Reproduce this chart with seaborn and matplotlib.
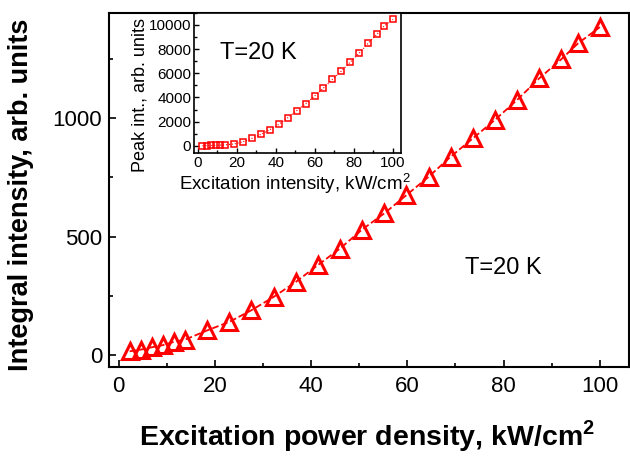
import numpy as np
import pandas as pd
import seaborn as sns
import matplotlib.pyplot as plt
from matplotlib.ticker import MultipleLocator

# excitation power density, kW/cm^2
power = [2.3, 4.6, 6.9, 9.2, 11.5, 13.8, 18.4, 23.0, 27.6, 32.2, 36.8, 41.4, 46.0,
         50.6, 55.2, 59.8, 64.4, 69.0, 73.6, 78.2, 82.8, 87.4, 92.0, 95.5, 100.0]
# integral intensity (main panel)
integral = [17, 24, 34, 43, 57, 66, 105, 141, 190, 246, 309, 380, 450,
            530, 598, 675, 752, 837, 914, 992, 1076, 1167, 1248, 1315, 1383]
# peak intensity (inset)
peak = [10, 20, 30, 40, 60, 80, 150, 331, 608, 939, 1326, 1767, 2320,
        2900, 3480, 4115, 4778, 5496, 6186, 6932, 7678, 8506, 9252, 9914, 10467]

df = pd.DataFrame({'power': power, 'integral': integral, 'peak': peak})

sns.set_style('ticks')
plt.rcParams['font.family'] = ['Liberation Sans', 'DejaVu Sans']
plt.rcParams['mathtext.fontset'] = 'custom'
plt.rcParams['mathtext.rm'] = 'Liberation Sans'
plt.rcParams['mathtext.bf'] = 'Liberation Sans:bold'
plt.rcParams['xtick.direction'] = 'in'
plt.rcParams['ytick.direction'] = 'in'
for k in ['text.color', 'axes.labelcolor', 'xtick.color', 'ytick.color', 'axes.edgecolor']:
    plt.rcParams[k] = 'black'

fig = plt.figure(figsize=(6.3, 4.59), dpi=100)
ax = fig.add_axes([0.173, 0.2, 0.825, 0.772])

sns.lineplot(data=df, x='power', y='integral', ax=ax, color='red', linestyle='--',
             linewidth=1.3, marker='^', markersize=12, markerfacecolor='none',
             markeredgecolor='red', markeredgewidth=2.2)
ax.set_xlim(-2, 106)
ax.set_ylim(-50, 1443)
ax.xaxis.set_major_locator(MultipleLocator(20))
ax.xaxis.set_minor_locator(MultipleLocator(10))
ax.yaxis.set_major_locator(MultipleLocator(500))
ax.yaxis.set_minor_locator(MultipleLocator(250))
ax.tick_params(which='major', length=5, width=1.2, labelsize=16)
ax.tick_params(which='minor', length=3, width=1.2)
ax.tick_params(axis='x', pad=6)
ax.tick_params(axis='y', pad=5)
for s in ax.spines.values():
    s.set_linewidth(1.5)
ax.set_xlabel(r'Excitation power density, kW/cm$^\mathbf{2}$', fontsize=20.5,
              fontweight='bold')
ax.set_ylabel('Integral intensity, arb. units', fontsize=19.5, fontweight='bold')
ax.xaxis.set_label_coords(0.496, -0.145)
ax.yaxis.set_label_coords(-0.144, 0.486)
ax.text(71.9, 367, 'T=20 K', fontsize=17, va='center')

ins = fig.add_axes([0.308, 0.667, 0.328, 0.305])
sns.lineplot(data=df, x='power', y='peak', ax=ins, color='red', linestyle=':',
             linewidth=0.8, marker='s', markersize=4.5, markerfacecolor='none',
             markeredgecolor='red', markeredgewidth=1.1)
ins.set_xlim(-2, 104)
ins.set_ylim(-580, 11000)
ins.xaxis.set_major_locator(MultipleLocator(20))
ins.xaxis.set_minor_locator(MultipleLocator(10))
ins.yaxis.set_major_locator(MultipleLocator(2000))
ins.yaxis.set_minor_locator(MultipleLocator(1000))
ins.tick_params(which='major', length=3.5, width=1, labelsize=11, pad=2)
ins.tick_params(which='minor', length=2, width=1)
for s in ins.spines.values():
    s.set_linewidth(1.2)
ins.set_xlabel(r'Excitation intensity, kW/cm$^2$', fontsize=13.5, labelpad=1)
ins.set_ylabel('Peak int., arb. units', fontsize=13, labelpad=1)
ins.xaxis.set_label_coords(0.488, -0.13)
ins.yaxis.set_label_coords(-0.222, 0.414)
ins.text(11.3, 7650, 'T=20 K', fontsize=17, va='center')

fig.savefig('out.png', dpi=100)
